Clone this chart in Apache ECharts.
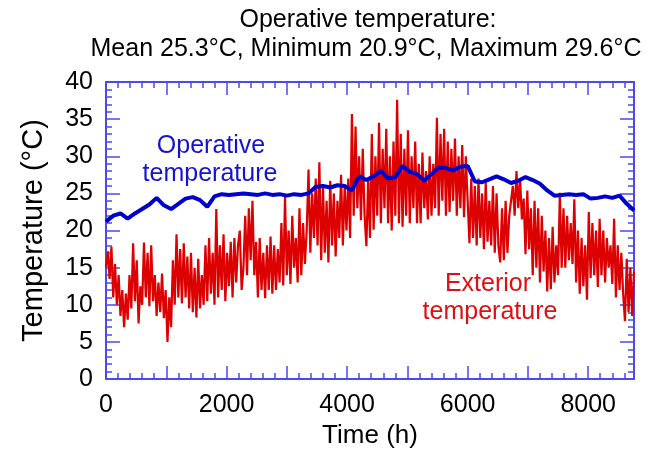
<!DOCTYPE html>
<html>
<head>
<meta charset="utf-8">
<script src="https://cdn.jsdelivr.net/npm/echarts@6/dist/echarts.min.js"></script>
<style>
html,body{margin:0;padding:0;background:#fff;}
#chart{width:659px;height:454px;}
</style>
</head>
<body>
<div id="chart"></div>
<script>
// ---- data ----
var titleLines = ["Operative temperature:", "Mean 25.3°C, Minimum 20.9°C, Maximum 29.6°C"];
var xTicks = [0, 2000, 4000, 6000, 8000];
var yTicks = [0, 5, 10, 15, 20, 25, 30, 35, 40];

// Exterior temperature, one reading every 30 h (0 .. 8760 h)
var extStep = 30;
var extValues = [
  15, 17.2, 13.5, 17.8,
  11, 15.5, 10, 14,
  8.5, 12, 7, 11.5, 8,
  14, 9.5, 18.3, 10.5, 16,
  7.5, 12.5,
  10, 18.4, 11, 17, 9.8, 18, 10.5,
  14, 8.5, 13, 9, 14.2, 8.2, 12,
  5.0, 11, 7,
  16, 10, 19.5, 11, 17.5, 10.2,
  18.3, 11, 16.5, 9.5, 17,
  9, 15, 8.3, 16.2, 9.5, 14, 10,
  18, 10.5, 19, 11.5, 17, 10, 22.9,
  11, 18, 12, 19.5, 10.5, 17, 12.5, 18.5, 11, 19, 13, 18, 20, 12,
  15, 22, 14, 23, 16, 24, 14,
  18.5, 11, 19, 12, 17, 10.9, 18, 12,
  19.2, 11.5, 18, 12, 17.5, 13,
  21, 12.6, 24.5, 14, 20, 12.8, 22, 15, 19, 13, 23, 14, 21, 15.5, 20,
  28.2, 17, 25, 19, 27, 18, 29.2,
  16, 26, 17, 24, 15.7, 26.7, 18, 25, 16.5, 24, 19,
  27.5, 18, 26, 20, 27, 19, 35.7,
  22, 34, 23, 30,
  21.4, 31, 22,
  17.9, 27, 19,
  33, 20.1, 30, 22, 34.5, 21, 31, 23, 33.7, 21,
  30, 20, 32, 22, 37.6, 21,
  33, 20.5, 31, 22, 33.5, 21, 30, 23, 32, 21,
  29, 21, 30.5, 23, 28, 21.5, 30, 22, 29, 23,
  35.2, 22, 33, 24, 33.7, 22,
  32, 22.5, 31, 24, 32.4, 22, 30, 23, 31.5, 21.8, 30, 24,
  18.3, 27, 19,
  26, 18, 27, 19, 25, 17.5, 26.5, 18.5, 24, 18, 26, 17, 25, 18, 15.7,
  23, 16, 24, 17, 22,
  21.8, 26, 22, 28, 23, 27, 21.5,
  24.3, 16.8, 25.4, 17.5, 23,
  14, 24, 15, 23, 13, 22, 14.5, 20, 11.8,
  19, 12.1, 20.5, 13, 18, 14,
  25.1, 15,
  23, 15, 22, 16, 21, 15.5, 24.2,
  13, 20, 11.5, 19, 12.5, 18, 10.7,
  22.5, 13.6, 21, 14, 20,
  12.4, 21.6, 14, 20, 13, 19, 15, 18, 12.8, 21.6,
  11, 18, 12, 17, 11.5,
  7.8, 16.2, 9, 15, 8.5, 14.5
];

// Operative temperature, one reading every 120 h (0 .. 8760 h)
var opStep = 120;
var opValues = [
  21.2, 22.0, 22.3, 21.6, 22.3, 22.9, 23.5, 24.4, 23.4, 22.9,
  23.6, 24.3, 24.5, 24.1, 23.2, 24.6, 24.9, 24.8, 24.9, 25.0,
  24.9, 24.8, 25.0, 24.8, 24.9, 24.7, 24.9, 24.8, 25.0, 25.9,
  26.0, 25.8, 26.1, 26.0, 25.4, 27.3, 26.8, 27.3, 28.0, 27.0,
  27.2, 28.7, 27.9, 27.6, 26.7, 27.6, 28.5, 28.4, 28.1, 28.6,
  28.7, 26.6, 26.5, 26.9, 27.3, 26.9, 26.4, 26.7, 27.2, 26.8,
  26.3, 25.4, 24.7, 24.8, 24.9, 24.8, 24.9, 24.3, 24.4, 24.6,
  24.4, 24.7, 23.6, 22.7
];

var opLabel = ["Operative", "temperature"];
var extLabel = ["Exterior", "temperature"];

// ---- chart ----
var FONT = '"Liberation Sans", Arial, sans-serif';
var AX = '#4a4aee';
var extData = extValues.map(function (v, i) { return [i * extStep, v]; });
var opData = opValues.map(function (v, i) { return [i * opStep, v]; });

function xAxisCfg(pos, showLabel) {
  return {
    type: 'value', position: pos, min: 0, max: 8760, interval: 1000,
    axisLine: { show: true, onZero: false, lineStyle: { color: AX, width: 2 } },
    axisTick: { show: true, inside: true, length: 13, lineStyle: { color: AX, width: 1.5 } },
    minorTick: { show: true, splitNumber: 5, length: 6, lineStyle: { color: AX, width: 1.5 } },
    splitLine: { show: false },
    axisLabel: {
      show: showLabel, showMaxLabel: false, color: '#000', fontSize: 25, fontFamily: FONT, margin: 14,
      formatter: function (v) { return xTicks.indexOf(v) >= 0 ? String(v) : ''; }
    }
  };
}
function yAxisCfg(pos, showLabel) {
  return {
    type: 'value', position: pos, min: 0, max: 40, interval: 5,
    axisLine: { show: true, onZero: false, lineStyle: { color: AX, width: 2 } },
    axisTick: { show: true, inside: true, length: 14, lineStyle: { color: AX, width: 1.5 } },
    minorTick: { show: true, splitNumber: 5, length: 6, lineStyle: { color: AX, width: 1.5 } },
    splitLine: { show: false },
    axisLabel: {
      show: showLabel, color: '#000', fontSize: 25, fontFamily: FONT, margin: 13,
      formatter: function (v) { return yTicks.indexOf(v) >= 0 ? String(v) : ''; }
    }
  };
}

var xb = xAxisCfg('bottom', true);
xb.name = 'Time (h)'; xb.nameLocation = 'middle'; xb.nameGap = 38;
xb.nameTextStyle = { color: '#000', fontSize: 26, fontFamily: FONT };
var yl = yAxisCfg('left', true);
yl.name = 'Temperature (°C)'; yl.nameLocation = 'middle'; yl.nameGap = 58;
yl.nameTextStyle = { color: '#000', fontSize: 29, fontFamily: FONT };

var chart = echarts.init(document.getElementById('chart'), null, { renderer: 'canvas' });
chart.setOption({
  animation: false,
  backgroundColor: '#fff',
  grid: { left: 106, right: 25, top: 82, bottom: 68, containLabel: false },
  xAxis: [xb, xAxisCfg('top', false)],
  yAxis: [yl, yAxisCfg('right', false)],
  graphic: [
    { type: 'text', x: 368, y: 20, style: { text: titleLines[0], fill: '#000', font: '25px ' + FONT, textAlign: 'center', textVerticalAlign: 'middle' } },
    { type: 'text', x: 366, y: 49, style: { text: titleLines[1], fill: '#000', font: '25px ' + FONT, textAlign: 'center', textVerticalAlign: 'middle' } },
    { type: 'text', x: 211, y: 146, z: 10, style: { text: opLabel[0], fill: '#1414cc', font: '25px ' + FONT, textAlign: 'center', textVerticalAlign: 'middle' } },
    { type: 'text', x: 210, y: 174, z: 10, style: { text: opLabel[1], fill: '#1414cc', font: '25px ' + FONT, textAlign: 'center', textVerticalAlign: 'middle' } },
    { type: 'text', x: 488, y: 284, z: 10, style: { text: extLabel[0], fill: '#dd1111', font: '25px ' + FONT, textAlign: 'center', textVerticalAlign: 'middle' } },
    { type: 'text', x: 490, y: 312, z: 10, style: { text: extLabel[1], fill: '#dd1111', font: '25px ' + FONT, textAlign: 'center', textVerticalAlign: 'middle' } }
  ],
  series: [
    { name: 'Exterior temperature', type: 'line', xAxisIndex: 0, yAxisIndex: 0, data: extData,
      showSymbol: false, symbol: 'none', z: 2,
      lineStyle: { color: '#dd0000', width: 2.2, join: 'miter' } },
    { name: 'Operative temperature', type: 'line', xAxisIndex: 0, yAxisIndex: 0, data: opData,
      showSymbol: false, symbol: 'none', z: 3,
      lineStyle: { color: '#0000cc', width: 4 } }
  ]
});
</script>
</body>
</html>
